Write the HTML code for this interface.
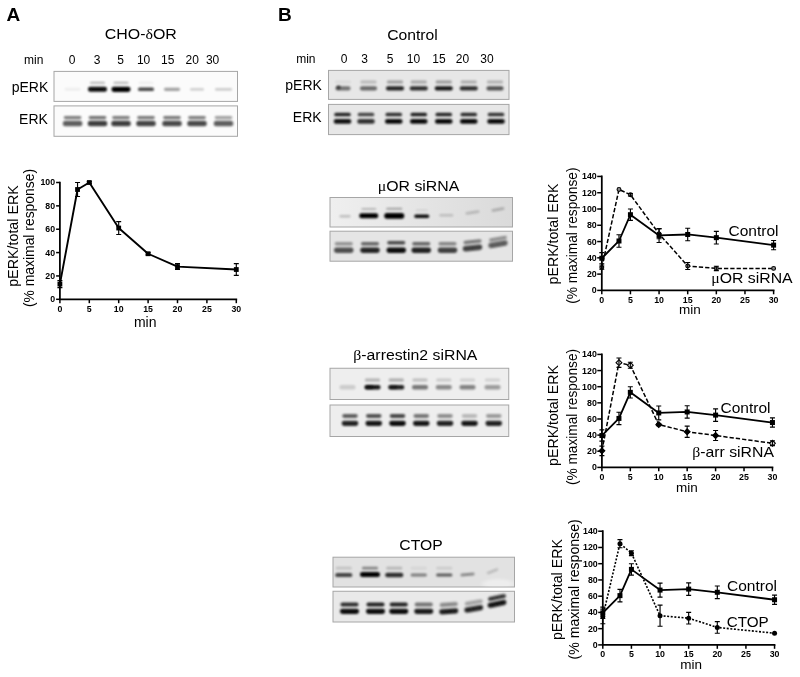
<!DOCTYPE html>
<html lang="en"><head><meta charset="utf-8"><title>Figure</title>
<style>html,body{margin:0;padding:0;background:#fff}svg{display:block}text{font-family:'Liberation Sans', Arial, Helvetica, sans-serif}</style>
</head><body>
<svg width="800" height="677" viewBox="0 0 800 677">
<defs>
<filter id="b1" x="-30%" y="-80%" width="160%" height="260%"><feGaussianBlur stdDeviation="1.15 0.85"/></filter>
<filter id="b2" x="-30%" y="-80%" width="160%" height="260%"><feGaussianBlur stdDeviation="1.3 1.0"/></filter>
<filter id="gb" x="0" y="0" width="800" height="677" filterUnits="userSpaceOnUse"><feGaussianBlur stdDeviation="0.5"/></filter>
<filter id="b3" x="-50%" y="-100%" width="200%" height="300%"><feGaussianBlur stdDeviation="2.5 1.8"/></filter>
<linearGradient id="gM" x1="0" x2="1" y1="0" y2="0"><stop offset="0" stop-color="#efefef"/><stop offset="1" stop-color="#dadada"/></linearGradient>
</defs>
<rect width="800" height="677" fill="#fff"/>
<g filter="url(#gb)">
<text x="6.5" y="20.8" font-size="19" font-weight="bold" text-anchor="start" fill="#050505">A</text>
<text x="277.9" y="20.8" font-size="19" font-weight="bold" text-anchor="start" fill="#050505">B</text>
<text transform="translate(140.8 38.8) scale(1.035 1)" font-size="15.4" text-anchor="middle" fill="#050505">CHO-<tspan font-family="'Liberation Serif', 'DejaVu Serif', serif">δ</tspan>OR</text>
<text transform="translate(412.5 39.9) scale(1.02 1)" font-size="15.4" text-anchor="middle" fill="#050505">Control</text>
<text x="24" y="63.5" font-size="12" text-anchor="start" fill="#050505">min</text>
<text x="72" y="63.5" font-size="12" text-anchor="middle" fill="#050505">0</text>
<text x="97" y="63.5" font-size="12" text-anchor="middle" fill="#050505">3</text>
<text x="120.5" y="63.5" font-size="12" text-anchor="middle" fill="#050505">5</text>
<text x="143.6" y="63.5" font-size="12" text-anchor="middle" fill="#050505">10</text>
<text x="167.7" y="63.5" font-size="12" text-anchor="middle" fill="#050505">15</text>
<text x="192.2" y="63.5" font-size="12" text-anchor="middle" fill="#050505">20</text>
<text x="212.6" y="63.5" font-size="12" text-anchor="middle" fill="#050505">30</text>
<text x="48.3" y="91.8" font-size="14" text-anchor="end" fill="#050505">pERK</text>
<text x="47.9" y="124.3" font-size="14" text-anchor="end" fill="#050505">ERK</text>
<text x="296.2" y="62.8" font-size="12" text-anchor="start" fill="#050505">min</text>
<text x="344" y="62.8" font-size="12" text-anchor="middle" fill="#050505">0</text>
<text x="364.5" y="62.8" font-size="12" text-anchor="middle" fill="#050505">3</text>
<text x="390" y="62.8" font-size="12" text-anchor="middle" fill="#050505">5</text>
<text x="413.5" y="62.8" font-size="12" text-anchor="middle" fill="#050505">10</text>
<text x="439" y="62.8" font-size="12" text-anchor="middle" fill="#050505">15</text>
<text x="462.5" y="62.8" font-size="12" text-anchor="middle" fill="#050505">20</text>
<text x="487" y="62.8" font-size="12" text-anchor="middle" fill="#050505">30</text>
<text x="321.9" y="89.8" font-size="14" text-anchor="end" fill="#050505">pERK</text>
<text x="321.6" y="121.7" font-size="14" text-anchor="end" fill="#050505">ERK</text>
<rect x="54" y="71.4" width="183.5" height="30.0" fill="#fbfbfb" stroke="#a6a6a6" stroke-width="1"/>
<clipPath id="cA1"><rect x="54.5" y="71.9" width="182.5" height="29.0"/></clipPath>
<g clip-path="url(#cA1)">
<rect x="64.6" y="87.8" width="16" height="3" rx="1.36" fill="#000" opacity="0.05" filter="url(#b1)"/>
<rect x="88.0" y="86.8" width="19" height="5" rx="2.27" fill="#000" opacity="0.95" filter="url(#b1)"/>
<rect x="111.5" y="86.7" width="19" height="5.2" rx="2.36" fill="#000" opacity="1.0" filter="url(#b1)"/>
<rect x="138.0" y="87.5" width="16" height="3.6" rx="1.64" fill="#000" opacity="0.72" filter="url(#b1)"/>
<rect x="164.0" y="87.7" width="16" height="3.2" rx="1.45" fill="#000" opacity="0.36" filter="url(#b1)"/>
<rect x="190.0" y="88.2" width="14" height="2.2" rx="1.0" fill="#000" opacity="0.2" filter="url(#b1)"/>
<rect x="215.0" y="88.2" width="17" height="2.2" rx="1.0" fill="#000" opacity="0.22" filter="url(#b1)"/>
<rect x="90.0" y="81.8" width="15" height="2.0" rx="0.91" fill="#000" opacity="0.28" filter="url(#b1)"/>
<rect x="113.5" y="81.8" width="15" height="2.0" rx="0.91" fill="#000" opacity="0.28" filter="url(#b1)"/>
<rect x="138.5" y="81.8" width="15" height="2.0" rx="0.91" fill="#000" opacity="0.06" filter="url(#b1)"/>
</g>
<rect x="54" y="105.9" width="183.5" height="30.400000000000006" fill="#fbfbfb" stroke="#a6a6a6" stroke-width="1"/>
<clipPath id="cA2"><rect x="54.5" y="106.4" width="182.5" height="29.400000000000006"/></clipPath>
<g clip-path="url(#cA2)">
<rect x="62.85" y="120.65" width="19.5" height="5.5" rx="2.5" fill="#000" opacity="0.62" filter="url(#b2)"/>
<rect x="87.75" y="120.65" width="19.5" height="5.5" rx="2.5" fill="#000" opacity="0.75" filter="url(#b2)"/>
<rect x="111.25" y="120.65" width="19.5" height="5.5" rx="2.5" fill="#000" opacity="0.75" filter="url(#b2)"/>
<rect x="136.25" y="120.65" width="19.5" height="5.5" rx="2.5" fill="#000" opacity="0.72" filter="url(#b2)"/>
<rect x="162.25" y="120.65" width="19.5" height="5.5" rx="2.5" fill="#000" opacity="0.7" filter="url(#b2)"/>
<rect x="187.25" y="120.65" width="19.5" height="5.5" rx="2.5" fill="#000" opacity="0.7" filter="url(#b2)"/>
<rect x="213.75" y="120.65" width="19.5" height="5.5" rx="2.5" fill="#000" opacity="0.62" filter="url(#b2)"/>
<rect x="63.85" y="116.0" width="17.5" height="3.2" rx="1.45" fill="#000" opacity="0.5" filter="url(#b2)"/>
<rect x="88.75" y="116.0" width="17.5" height="3.2" rx="1.45" fill="#000" opacity="0.55" filter="url(#b2)"/>
<rect x="112.25" y="116.0" width="17.5" height="3.2" rx="1.45" fill="#000" opacity="0.5" filter="url(#b2)"/>
<rect x="137.25" y="116.0" width="17.5" height="3.2" rx="1.45" fill="#000" opacity="0.52" filter="url(#b2)"/>
<rect x="163.25" y="116.0" width="17.5" height="3.2" rx="1.45" fill="#000" opacity="0.52" filter="url(#b2)"/>
<rect x="188.25" y="116.0" width="17.5" height="3.2" rx="1.45" fill="#000" opacity="0.5" filter="url(#b2)"/>
<rect x="214.75" y="116.0" width="17.5" height="3.2" rx="1.45" fill="#000" opacity="0.36" filter="url(#b2)"/>
</g>
<rect x="328.5" y="70.4" width="180.5" height="29.0" fill="#e7e7e7" stroke="#a6a6a6" stroke-width="1"/>
<clipPath id="cB1"><rect x="329.0" y="70.9" width="179.5" height="28.0"/></clipPath>
<g clip-path="url(#cB1)">
<rect x="335.5" y="86.2" width="15" height="4.2" rx="1.91" fill="#000" opacity="0.5" filter="url(#b1)"/>
<rect x="360.0" y="86.2" width="17" height="4.2" rx="1.91" fill="#000" opacity="0.55" filter="url(#b1)"/>
<rect x="386.0" y="86.2" width="18" height="4.2" rx="1.91" fill="#000" opacity="0.85" filter="url(#b1)"/>
<rect x="409.75" y="86.2" width="18" height="4.2" rx="1.91" fill="#000" opacity="0.8" filter="url(#b1)"/>
<rect x="434.75" y="86.2" width="18" height="4.2" rx="1.91" fill="#000" opacity="0.9" filter="url(#b1)"/>
<rect x="459.75" y="86.2" width="18" height="4.2" rx="1.91" fill="#000" opacity="0.8" filter="url(#b1)"/>
<rect x="486.5" y="86.2" width="17" height="4.2" rx="1.91" fill="#000" opacity="0.65" filter="url(#b1)"/>
<rect x="336.5" y="85.6" width="4" height="3.6" rx="1.64" fill="#000" opacity="0.6" filter="url(#b1)"/>
<rect x="335.0" y="80.6" width="16" height="2.8" rx="1.27" fill="#000" opacity="0.05" filter="url(#b1)"/>
<rect x="360.5" y="80.6" width="16" height="2.8" rx="1.27" fill="#000" opacity="0.2" filter="url(#b1)"/>
<rect x="387.0" y="80.6" width="16" height="2.8" rx="1.27" fill="#000" opacity="0.32" filter="url(#b1)"/>
<rect x="410.75" y="80.6" width="16" height="2.8" rx="1.27" fill="#000" opacity="0.28" filter="url(#b1)"/>
<rect x="435.75" y="80.6" width="16" height="2.8" rx="1.27" fill="#000" opacity="0.34" filter="url(#b1)"/>
<rect x="460.75" y="80.6" width="16" height="2.8" rx="1.27" fill="#000" opacity="0.26" filter="url(#b1)"/>
<rect x="487.0" y="80.6" width="16" height="2.8" rx="1.27" fill="#000" opacity="0.24" filter="url(#b1)"/>
</g>
<rect x="328.5" y="104.4" width="180.5" height="30.19999999999999" fill="#e7e7e7" stroke="#a6a6a6" stroke-width="1"/>
<clipPath id="cB2"><rect x="329.0" y="104.9" width="179.5" height="29.19999999999999"/></clipPath>
<g clip-path="url(#cB2)">
<rect x="333.75" y="119.0" width="17.5" height="4.8" rx="2.18" fill="#000" opacity="0.92" filter="url(#b1)"/>
<rect x="357.25" y="119.0" width="17.5" height="4.8" rx="2.18" fill="#000" opacity="0.78" filter="url(#b1)"/>
<rect x="385.0" y="119.0" width="17.5" height="4.8" rx="2.18" fill="#000" opacity="0.95" filter="url(#b1)"/>
<rect x="410.0" y="119.0" width="17.5" height="4.8" rx="2.18" fill="#000" opacity="0.95" filter="url(#b1)"/>
<rect x="435.0" y="119.0" width="17.5" height="4.8" rx="2.18" fill="#000" opacity="0.95" filter="url(#b1)"/>
<rect x="460.0" y="119.0" width="17.5" height="4.8" rx="2.18" fill="#000" opacity="0.95" filter="url(#b1)"/>
<rect x="487.25" y="119.0" width="17.5" height="4.8" rx="2.18" fill="#000" opacity="0.95" filter="url(#b1)"/>
<rect x="334.25" y="112.8" width="16.5" height="3.4" rx="1.55" fill="#000" opacity="0.85" filter="url(#b1)"/>
<rect x="357.75" y="112.8" width="16.5" height="3.4" rx="1.55" fill="#000" opacity="0.7" filter="url(#b1)"/>
<rect x="385.5" y="112.8" width="16.5" height="3.4" rx="1.55" fill="#000" opacity="0.8" filter="url(#b1)"/>
<rect x="410.5" y="112.8" width="16.5" height="3.4" rx="1.55" fill="#000" opacity="0.88" filter="url(#b1)"/>
<rect x="435.5" y="112.8" width="16.5" height="3.4" rx="1.55" fill="#000" opacity="0.85" filter="url(#b1)"/>
<rect x="460.5" y="112.8" width="16.5" height="3.4" rx="1.55" fill="#000" opacity="0.82" filter="url(#b1)"/>
<rect x="487.75" y="112.8" width="16.5" height="3.4" rx="1.55" fill="#000" opacity="0.78" filter="url(#b1)"/>
</g>
<text transform="translate(418.5 191.1) scale(1.03 1)" font-size="15.4" text-anchor="middle" fill="#050505"><tspan font-family="'Liberation Serif', 'DejaVu Serif', serif">μ</tspan>OR siRNA</text>
<rect x="330" y="197.5" width="182.5" height="29.5" fill="url(#gM)" stroke="#a6a6a6" stroke-width="1"/>
<clipPath id="cM1"><rect x="330.5" y="198.0" width="181.5" height="28.5"/></clipPath>
<g clip-path="url(#cM1)">
<rect x="339.5" y="214.9" width="11" height="2.6" rx="1.18" fill="#000" opacity="0.2" filter="url(#b1)"/>
<rect x="359.25" y="213.3" width="19" height="5.0" rx="2.27" fill="#000" opacity="1.0" filter="url(#b1)"/>
<rect x="384.25" y="212.9" width="20" height="5.8" rx="2.64" fill="#000" opacity="1.0" filter="url(#b1)"/>
<rect x="414.25" y="214.4" width="15" height="3.6" rx="1.64" fill="#000" opacity="0.95" filter="url(#b1)"/>
<rect x="439.25" y="214.1" width="14" height="2.4" rx="1.09" fill="#000" opacity="0.16" filter="url(#b1)"/>
<rect x="465.5" y="211.3" width="14" height="2.4" rx="1.09" fill="#000" opacity="0.2" filter="url(#b1)" transform="rotate(-9 472.5 212.5)"/>
<rect x="491.5" y="208.3" width="13" height="2.4" rx="1.09" fill="#000" opacity="0.24" filter="url(#b1)" transform="rotate(-11 498 209.5)"/>
<rect x="361.25" y="208.1" width="15" height="1.8" rx="0.82" fill="#000" opacity="0.22" filter="url(#b1)"/>
<rect x="386.25" y="207.8" width="16" height="2.0" rx="0.91" fill="#000" opacity="0.3" filter="url(#b1)"/>
<rect x="415.75" y="209.4" width="12" height="1.6" rx="0.73" fill="#000" opacity="0.1" filter="url(#b1)"/>
</g>
<rect x="330" y="231.2" width="182.5" height="30.0" fill="#e5e5e5" stroke="#a6a6a6" stroke-width="1"/>
<clipPath id="cM2"><rect x="330.5" y="231.7" width="181.5" height="29.0"/></clipPath>
<g clip-path="url(#cM2)">
<rect x="334.0" y="247.5" width="19.5" height="5.4" rx="2.45" fill="#000" opacity="0.66" filter="url(#b2)"/>
<rect x="360.25" y="247.5" width="19.5" height="5.4" rx="2.45" fill="#000" opacity="0.84" filter="url(#b2)"/>
<rect x="386.5" y="247.5" width="19.5" height="5.4" rx="2.45" fill="#000" opacity="0.94" filter="url(#b2)"/>
<rect x="411.5" y="247.5" width="19.5" height="5.4" rx="2.45" fill="#000" opacity="0.86" filter="url(#b2)"/>
<rect x="437.75" y="247.5" width="19.5" height="5.4" rx="2.45" fill="#000" opacity="0.72" filter="url(#b2)"/>
<rect x="462.75" y="245.3" width="19.5" height="5.4" rx="2.45" fill="#000" opacity="0.72" filter="url(#b2)" transform="rotate(-6 472.5 248.0)"/>
<rect x="488.25" y="241.5" width="19.5" height="5.4" rx="2.45" fill="#000" opacity="0.6" filter="url(#b2)" transform="rotate(-10 498 244.2)"/>
<rect x="334.75" y="242.0" width="18" height="3.4" rx="1.55" fill="#000" opacity="0.36" filter="url(#b2)"/>
<rect x="361.0" y="242.0" width="18" height="3.4" rx="1.55" fill="#000" opacity="0.56" filter="url(#b2)"/>
<rect x="387.25" y="241.0" width="18" height="3.4" rx="1.55" fill="#000" opacity="0.68" filter="url(#b2)"/>
<rect x="412.25" y="242.0" width="18" height="3.4" rx="1.55" fill="#000" opacity="0.56" filter="url(#b2)"/>
<rect x="438.5" y="242.0" width="18" height="3.4" rx="1.55" fill="#000" opacity="0.42" filter="url(#b2)"/>
<rect x="463.5" y="240.0" width="18" height="3.4" rx="1.55" fill="#000" opacity="0.48" filter="url(#b2)" transform="rotate(-6 472.5 241.7)"/>
<rect x="489.0" y="237.0" width="18" height="3.4" rx="1.55" fill="#000" opacity="0.38" filter="url(#b2)" transform="rotate(-10 498 238.7)"/>
</g>
<text transform="translate(415.3 360.1) scale(1.028 1)" font-size="15.4" text-anchor="middle" fill="#050505"><tspan font-family="'Liberation Serif', 'DejaVu Serif', serif">β</tspan>-arrestin2 siRNA</text>
<rect x="330" y="368.25" width="178.75" height="31.25" fill="#eeeeee" stroke="#a6a6a6" stroke-width="1"/>
<clipPath id="cR1"><rect x="330.5" y="368.75" width="177.75" height="30.25"/></clipPath>
<g clip-path="url(#cR1)">
<rect x="339.5" y="385.0" width="16" height="4.4" rx="2.0" fill="#000" opacity="0.14" filter="url(#b1)"/>
<rect x="364.5" y="385.0" width="16" height="4.4" rx="2.0" fill="#000" opacity="0.9" filter="url(#b1)"/>
<rect x="388.25" y="385.0" width="16" height="4.4" rx="2.0" fill="#000" opacity="0.85" filter="url(#b1)"/>
<rect x="412.0" y="385.0" width="16" height="4.4" rx="2.0" fill="#000" opacity="0.5" filter="url(#b1)"/>
<rect x="435.75" y="385.0" width="16" height="4.4" rx="2.0" fill="#000" opacity="0.42" filter="url(#b1)"/>
<rect x="459.5" y="385.0" width="16" height="4.4" rx="2.0" fill="#000" opacity="0.45" filter="url(#b1)"/>
<rect x="484.5" y="385.0" width="16" height="4.4" rx="2.0" fill="#000" opacity="0.34" filter="url(#b1)"/>
<rect x="365.5" y="385.4" width="8" height="3.6" rx="1.64" fill="#000" opacity="0.5" filter="url(#b1)"/>
<rect x="389.5" y="385.4" width="8" height="3.6" rx="1.64" fill="#000" opacity="0.4" filter="url(#b1)"/>
<rect x="365.0" y="378.6" width="15" height="2.8" rx="1.27" fill="#000" opacity="0.25" filter="url(#b1)"/>
<rect x="388.75" y="378.6" width="15" height="2.8" rx="1.27" fill="#000" opacity="0.28" filter="url(#b1)"/>
<rect x="412.5" y="378.6" width="15" height="2.8" rx="1.27" fill="#000" opacity="0.2" filter="url(#b1)"/>
<rect x="436.25" y="378.6" width="15" height="2.8" rx="1.27" fill="#000" opacity="0.15" filter="url(#b1)"/>
<rect x="460.0" y="378.6" width="15" height="2.8" rx="1.27" fill="#000" opacity="0.12" filter="url(#b1)"/>
<rect x="485.0" y="378.6" width="15" height="2.8" rx="1.27" fill="#000" opacity="0.12" filter="url(#b1)"/>
</g>
<rect x="330" y="405" width="178.75" height="31.5" fill="#eeeeee" stroke="#a6a6a6" stroke-width="1"/>
<clipPath id="cR2"><rect x="330.5" y="405.5" width="177.75" height="30.5"/></clipPath>
<g clip-path="url(#cR2)">
<rect x="341.75" y="420.7" width="16.5" height="5.2" rx="2.36" fill="#000" opacity="0.85" filter="url(#b1)"/>
<rect x="365.5" y="420.7" width="16.5" height="5.2" rx="2.36" fill="#000" opacity="0.9" filter="url(#b1)"/>
<rect x="389.25" y="420.7" width="16.5" height="5.2" rx="2.36" fill="#000" opacity="0.95" filter="url(#b1)"/>
<rect x="413.0" y="420.7" width="16.5" height="5.2" rx="2.36" fill="#000" opacity="0.9" filter="url(#b1)"/>
<rect x="436.75" y="420.7" width="16.5" height="5.2" rx="2.36" fill="#000" opacity="0.85" filter="url(#b1)"/>
<rect x="461.25" y="420.7" width="16.5" height="5.2" rx="2.36" fill="#000" opacity="0.9" filter="url(#b1)"/>
<rect x="485.5" y="420.7" width="16.5" height="5.2" rx="2.36" fill="#000" opacity="0.85" filter="url(#b1)"/>
<rect x="342.25" y="413.9" width="15.5" height="4.0" rx="1.82" fill="#000" opacity="0.6" filter="url(#b1)"/>
<rect x="366.0" y="413.9" width="15.5" height="4.0" rx="1.82" fill="#000" opacity="0.65" filter="url(#b1)"/>
<rect x="389.75" y="413.9" width="15.5" height="4.0" rx="1.82" fill="#000" opacity="0.7" filter="url(#b1)"/>
<rect x="413.5" y="413.9" width="15.5" height="4.0" rx="1.82" fill="#000" opacity="0.5" filter="url(#b1)"/>
<rect x="437.25" y="413.9" width="15.5" height="4.0" rx="1.82" fill="#000" opacity="0.4" filter="url(#b1)"/>
<rect x="461.75" y="413.9" width="15.5" height="4.0" rx="1.82" fill="#000" opacity="0.22" filter="url(#b1)"/>
<rect x="486.0" y="413.9" width="15.5" height="4.0" rx="1.82" fill="#000" opacity="0.35" filter="url(#b1)"/>
</g>
<text transform="translate(421 550.3) scale(1.02 1)" font-size="15.4" text-anchor="middle" fill="#050505">CTOP</text>
<rect x="333" y="557.2" width="181.5" height="29.799999999999955" fill="#e2e2e2" stroke="#a6a6a6" stroke-width="1"/>
<clipPath id="cC1"><rect x="333.5" y="557.7" width="180.5" height="28.799999999999955"/></clipPath>
<g clip-path="url(#cC1)">
<rect x="335.25" y="572.9" width="17" height="4.2" rx="1.91" fill="#000" opacity="0.7" filter="url(#b1)"/>
<rect x="360.0" y="571.9" width="20" height="5.2" rx="2.36" fill="#000" opacity="1.0" filter="url(#b1)"/>
<rect x="385.25" y="572.7" width="18" height="4.6" rx="2.09" fill="#000" opacity="0.8" filter="url(#b1)"/>
<rect x="410.75" y="573.6" width="16" height="2.8" rx="1.27" fill="#000" opacity="0.45" filter="url(#b1)"/>
<rect x="436.25" y="573.4" width="16" height="3.2" rx="1.45" fill="#000" opacity="0.6" filter="url(#b1)"/>
<rect x="460.5" y="573.2" width="14" height="2.6" rx="1.18" fill="#000" opacity="0.45" filter="url(#b1)" transform="rotate(-5 467.5 574.5)"/>
<rect x="486.5" y="570.0" width="12" height="2.4" rx="1.09" fill="#000" opacity="0.18" filter="url(#b1)" transform="rotate(-22 492.5 571.2)"/>
<rect x="335.75" y="566.8" width="16" height="2.8" rx="1.27" fill="#000" opacity="0.14" filter="url(#b1)"/>
<rect x="362.0" y="566.8" width="16" height="2.8" rx="1.27" fill="#000" opacity="0.42" filter="url(#b1)"/>
<rect x="386.25" y="566.8" width="16" height="2.8" rx="1.27" fill="#000" opacity="0.2" filter="url(#b1)"/>
<rect x="410.75" y="566.8" width="16" height="2.8" rx="1.27" fill="#000" opacity="0.06" filter="url(#b1)"/>
<rect x="436.25" y="566.8" width="16" height="2.8" rx="1.27" fill="#000" opacity="0.1" filter="url(#b1)"/>
</g>
<g clip-path="url(#cC1)"><ellipse cx="498" cy="584" rx="16" ry="5" fill="#fff" opacity="0.4" filter="url(#b3)"/></g>
<rect x="333" y="591.25" width="181.5" height="30.75" fill="#e9e9e9" stroke="#a6a6a6" stroke-width="1"/>
<clipPath id="cC2"><rect x="333.5" y="591.75" width="180.5" height="29.75"/></clipPath>
<g clip-path="url(#cC2)">
<rect x="340.0" y="608.7" width="19" height="5.2" rx="2.36" fill="#000" opacity="0.95" filter="url(#b1)"/>
<rect x="366.0" y="608.7" width="19" height="5.2" rx="2.36" fill="#000" opacity="0.95" filter="url(#b1)"/>
<rect x="389.25" y="608.7" width="19" height="5.2" rx="2.36" fill="#000" opacity="0.95" filter="url(#b1)"/>
<rect x="414.25" y="608.7" width="19" height="5.2" rx="2.36" fill="#000" opacity="0.88" filter="url(#b1)"/>
<rect x="439.25" y="608.7" width="19" height="5.2" rx="2.36" fill="#000" opacity="0.88" filter="url(#b1)" transform="rotate(-4 448.75 611.3)"/>
<rect x="464.25" y="606.2" width="19" height="5.2" rx="2.36" fill="#000" opacity="0.85" filter="url(#b1)" transform="rotate(-10 473.75 608.8)"/>
<rect x="487.5" y="601.2" width="19" height="5.2" rx="2.36" fill="#000" opacity="0.92" filter="url(#b1)" transform="rotate(-12 497 603.8)"/>
<rect x="340.5" y="602.6" width="18" height="3.8" rx="1.73" fill="#000" opacity="0.8" filter="url(#b1)"/>
<rect x="366.5" y="602.6" width="18" height="3.8" rx="1.73" fill="#000" opacity="0.85" filter="url(#b1)"/>
<rect x="389.75" y="602.6" width="18" height="3.8" rx="1.73" fill="#000" opacity="0.85" filter="url(#b1)"/>
<rect x="414.75" y="602.6" width="18" height="3.8" rx="1.73" fill="#000" opacity="0.5" filter="url(#b1)"/>
<rect x="439.75" y="602.6" width="18" height="3.8" rx="1.73" fill="#000" opacity="0.42" filter="url(#b1)" transform="rotate(-4 448.75 604.5)"/>
<rect x="464.75" y="600.6" width="18" height="3.8" rx="1.73" fill="#000" opacity="0.3" filter="url(#b1)" transform="rotate(-10 473.75 602.5)"/>
<rect x="488.0" y="595.6" width="18" height="3.8" rx="1.73" fill="#000" opacity="0.8" filter="url(#b1)" transform="rotate(-12 497 597.5)"/>
</g>
<polyline points="59.9,284.12 77.54,189.51 89.3,182.5 118.7,228.05 148.1,253.75 177.5,266.6 236.3,269.52" fill="none" stroke="#050505" stroke-width="1.9" stroke-linejoin="round"/>
<path d="M59.9 287.62V280.61M57.4 280.61h5.0M57.4 287.62h5.0" stroke="#050505" stroke-width="1.15" fill="none"/>
<path d="M77.54 196.52V182.5M75.04 182.5h5.0M75.04 196.52h5.0" stroke="#050505" stroke-width="1.15" fill="none"/>
<path d="M89.3 183.43V181.57M86.8 181.57h5.0M86.8 183.43h5.0" stroke="#050505" stroke-width="1.15" fill="none"/>
<path d="M118.7 234.48V221.63M116.2 221.63h5.0M116.2 234.48h5.0" stroke="#050505" stroke-width="1.15" fill="none"/>
<path d="M148.1 254.92V252.58M145.6 252.58h5.0M145.6 254.92h5.0" stroke="#050505" stroke-width="1.15" fill="none"/>
<path d="M177.5 269.52V263.68M175.0 263.68h5.0M175.0 269.52h5.0" stroke="#050505" stroke-width="1.15" fill="none"/>
<path d="M236.3 275.36V263.68M233.8 263.68h5.0M233.8 275.36h5.0" stroke="#050505" stroke-width="1.15" fill="none"/>
<rect x="57.5" y="281.72" width="4.8" height="4.8" fill="#050505"/>
<rect x="75.14" y="187.11" width="4.8" height="4.8" fill="#050505"/>
<rect x="86.9" y="180.1" width="4.8" height="4.8" fill="#050505"/>
<rect x="116.3" y="225.65" width="4.8" height="4.8" fill="#050505"/>
<rect x="145.7" y="251.35" width="4.8" height="4.8" fill="#050505"/>
<rect x="175.1" y="264.2" width="4.8" height="4.8" fill="#050505"/>
<rect x="233.9" y="267.12" width="4.8" height="4.8" fill="#050505"/>
<path d="M59.9 182.5V299.3H236.3" stroke="#050505" stroke-width="1.75" fill="none" stroke-linecap="square"/>
<path d="M59.9 299.3h-3.8" stroke="#050505" stroke-width="1.5"/>
<text transform="translate(55.1 302.24) scale(1.07 1)" font-size="8.2" font-weight="bold" text-anchor="end" fill="#050505">0</text>
<path d="M59.9 275.94h-3.8" stroke="#050505" stroke-width="1.5"/>
<text transform="translate(55.1 278.88) scale(1.07 1)" font-size="8.2" font-weight="bold" text-anchor="end" fill="#050505">20</text>
<path d="M59.9 252.58h-3.8" stroke="#050505" stroke-width="1.5"/>
<text transform="translate(55.1 255.52) scale(1.07 1)" font-size="8.2" font-weight="bold" text-anchor="end" fill="#050505">40</text>
<path d="M59.9 229.22h-3.8" stroke="#050505" stroke-width="1.5"/>
<text transform="translate(55.1 232.16) scale(1.07 1)" font-size="8.2" font-weight="bold" text-anchor="end" fill="#050505">60</text>
<path d="M59.9 205.86h-3.8" stroke="#050505" stroke-width="1.5"/>
<text transform="translate(55.1 208.8) scale(1.07 1)" font-size="8.2" font-weight="bold" text-anchor="end" fill="#050505">80</text>
<path d="M59.9 182.5h-3.8" stroke="#050505" stroke-width="1.5"/>
<text transform="translate(55.1 185.44) scale(1.07 1)" font-size="8.2" font-weight="bold" text-anchor="end" fill="#050505">100</text>
<path d="M59.9 299.3v3.9" stroke="#050505" stroke-width="1.5"/>
<text transform="translate(59.9 311.6) scale(1.07 1)" font-size="8.2" font-weight="bold" text-anchor="middle" fill="#050505">0</text>
<path d="M89.3 299.3v3.9" stroke="#050505" stroke-width="1.5"/>
<text transform="translate(89.3 311.6) scale(1.07 1)" font-size="8.2" font-weight="bold" text-anchor="middle" fill="#050505">5</text>
<path d="M118.7 299.3v3.9" stroke="#050505" stroke-width="1.5"/>
<text transform="translate(118.7 311.6) scale(1.07 1)" font-size="8.2" font-weight="bold" text-anchor="middle" fill="#050505">10</text>
<path d="M148.1 299.3v3.9" stroke="#050505" stroke-width="1.5"/>
<text transform="translate(148.1 311.6) scale(1.07 1)" font-size="8.2" font-weight="bold" text-anchor="middle" fill="#050505">15</text>
<path d="M177.5 299.3v3.9" stroke="#050505" stroke-width="1.5"/>
<text transform="translate(177.5 311.6) scale(1.07 1)" font-size="8.2" font-weight="bold" text-anchor="middle" fill="#050505">20</text>
<path d="M206.9 299.3v3.9" stroke="#050505" stroke-width="1.5"/>
<text transform="translate(206.9 311.6) scale(1.07 1)" font-size="8.2" font-weight="bold" text-anchor="middle" fill="#050505">25</text>
<path d="M236.3 299.3v3.9" stroke="#050505" stroke-width="1.5"/>
<text transform="translate(236.3 311.6) scale(1.07 1)" font-size="8.2" font-weight="bold" text-anchor="middle" fill="#050505">30</text>
<text transform="translate(17.6 236) rotate(-90) scale(1 1.0)" font-size="14.3" text-anchor="middle" fill="#050505">pERK/total ERK</text>
<text transform="translate(33.8 238) rotate(-90) scale(1 1.0)" font-size="13.9" text-anchor="middle" fill="#050505">(% maximal response)</text>
<text x="145.2" y="327" font-size="14" text-anchor="middle" fill="#050505">min</text>
<polyline points="601.8,267.61 618.98,189.46 630.43,194.75 659.07,233.83 687.7,265.98 716.34,268.42 773.61,268.42" fill="none" stroke="#050505" stroke-width="1.5" stroke-dasharray="4.3 2" stroke-linejoin="round"/>
<circle cx="601.8" cy="267.61" r="1.9" fill="#8a8a8a" stroke="#050505" stroke-width="1.1"/>
<circle cx="618.98" cy="189.46" r="1.9" fill="#8a8a8a" stroke="#050505" stroke-width="1.1"/>
<circle cx="630.43" cy="194.75" r="1.9" fill="#8a8a8a" stroke="#050505" stroke-width="1.1"/>
<circle cx="659.07" cy="233.83" r="1.9" fill="#8a8a8a" stroke="#050505" stroke-width="1.1"/>
<circle cx="687.7" cy="265.98" r="1.9" fill="#8a8a8a" stroke="#050505" stroke-width="1.1"/>
<circle cx="716.34" cy="268.42" r="1.9" fill="#8a8a8a" stroke="#050505" stroke-width="1.1"/>
<circle cx="773.61" cy="268.42" r="1.9" fill="#8a8a8a" stroke="#050505" stroke-width="1.1"/>
<path d="M601.8 269.24V265.98M599.3 265.98h5.0M599.3 269.24h5.0" stroke="#050505" stroke-width="1.15" fill="none"/>
<path d="M630.43 195.98V193.53M627.93 193.53h5.0M627.93 195.98h5.0" stroke="#050505" stroke-width="1.15" fill="none"/>
<path d="M659.07 238.71V228.94M656.57 228.94h5.0M656.57 238.71h5.0" stroke="#050505" stroke-width="1.15" fill="none"/>
<path d="M687.7 269.48V262.48M685.2 262.48h5.0M685.2 269.48h5.0" stroke="#050505" stroke-width="1.15" fill="none"/>
<path d="M716.34 270.62V266.22M713.84 266.22h5.0M713.84 270.62h5.0" stroke="#050505" stroke-width="1.15" fill="none"/>
<polyline points="601.8,258.25 618.98,240.99 630.43,214.7 659.07,235.45 687.7,234.48 716.34,237.65 773.61,245.14" fill="none" stroke="#050505" stroke-width="1.8" stroke-linejoin="round"/>
<path d="M601.8 263.94V252.55M599.3 252.55h5.0M599.3 263.94h5.0" stroke="#050505" stroke-width="1.15" fill="none"/>
<path d="M618.98 247.26V234.72M616.48 234.72h5.0M616.48 247.26h5.0" stroke="#050505" stroke-width="1.15" fill="none"/>
<path d="M630.43 220.4V209.0M627.93 209.0h5.0M627.93 220.4h5.0" stroke="#050505" stroke-width="1.15" fill="none"/>
<path d="M659.07 242.46V228.45M656.57 228.45h5.0M656.57 242.46h5.0" stroke="#050505" stroke-width="1.15" fill="none"/>
<path d="M687.7 240.75V228.21M685.2 228.21h5.0M685.2 240.75h5.0" stroke="#050505" stroke-width="1.15" fill="none"/>
<path d="M716.34 244.0V231.3M713.84 231.3h5.0M713.84 244.0h5.0" stroke="#050505" stroke-width="1.15" fill="none"/>
<path d="M773.61 249.78V240.5M771.11 240.5h5.0M771.11 249.78h5.0" stroke="#050505" stroke-width="1.15" fill="none"/>
<rect x="599.3" y="255.75" width="5.0" height="5.0" fill="#050505"/>
<rect x="616.48" y="238.49" width="5.0" height="5.0" fill="#050505"/>
<rect x="627.93" y="212.2" width="5.0" height="5.0" fill="#050505"/>
<rect x="656.57" y="232.95" width="5.0" height="5.0" fill="#050505"/>
<rect x="685.2" y="231.98" width="5.0" height="5.0" fill="#050505"/>
<rect x="713.84" y="235.15" width="5.0" height="5.0" fill="#050505"/>
<rect x="771.11" y="242.64" width="5.0" height="5.0" fill="#050505"/>
<path d="M601.8 176.44V290.4H773.61" stroke="#050505" stroke-width="1.75" fill="none" stroke-linecap="square"/>
<path d="M601.8 290.4h-4.6" stroke="#050505" stroke-width="1.5"/>
<text transform="translate(596.7 293.41) scale(1.05 1)" font-size="8.4" font-weight="bold" text-anchor="end" fill="#050505">0</text>
<path d="M601.8 274.12h-4.6" stroke="#050505" stroke-width="1.5"/>
<text transform="translate(596.7 277.13) scale(1.05 1)" font-size="8.4" font-weight="bold" text-anchor="end" fill="#050505">20</text>
<path d="M601.8 257.84h-4.6" stroke="#050505" stroke-width="1.5"/>
<text transform="translate(596.7 260.85) scale(1.05 1)" font-size="8.4" font-weight="bold" text-anchor="end" fill="#050505">40</text>
<path d="M601.8 241.56h-4.6" stroke="#050505" stroke-width="1.5"/>
<text transform="translate(596.7 244.57) scale(1.05 1)" font-size="8.4" font-weight="bold" text-anchor="end" fill="#050505">60</text>
<path d="M601.8 225.28h-4.6" stroke="#050505" stroke-width="1.5"/>
<text transform="translate(596.7 228.29) scale(1.05 1)" font-size="8.4" font-weight="bold" text-anchor="end" fill="#050505">80</text>
<path d="M601.8 209.0h-4.6" stroke="#050505" stroke-width="1.5"/>
<text transform="translate(596.7 212.01) scale(1.05 1)" font-size="8.4" font-weight="bold" text-anchor="end" fill="#050505">100</text>
<path d="M601.8 192.72h-4.6" stroke="#050505" stroke-width="1.5"/>
<text transform="translate(596.7 195.73) scale(1.05 1)" font-size="8.4" font-weight="bold" text-anchor="end" fill="#050505">120</text>
<path d="M601.8 176.44h-4.6" stroke="#050505" stroke-width="1.5"/>
<text transform="translate(596.7 179.45) scale(1.05 1)" font-size="8.4" font-weight="bold" text-anchor="end" fill="#050505">140</text>
<path d="M601.8 290.4v3.9" stroke="#050505" stroke-width="1.5"/>
<text transform="translate(601.8 303.0) scale(1.05 1)" font-size="8.4" font-weight="bold" text-anchor="middle" fill="#050505">0</text>
<path d="M630.43 290.4v3.9" stroke="#050505" stroke-width="1.5"/>
<text transform="translate(630.43 303.0) scale(1.05 1)" font-size="8.4" font-weight="bold" text-anchor="middle" fill="#050505">5</text>
<path d="M659.07 290.4v3.9" stroke="#050505" stroke-width="1.5"/>
<text transform="translate(659.07 303.0) scale(1.05 1)" font-size="8.4" font-weight="bold" text-anchor="middle" fill="#050505">10</text>
<path d="M687.7 290.4v3.9" stroke="#050505" stroke-width="1.5"/>
<text transform="translate(687.7 303.0) scale(1.05 1)" font-size="8.4" font-weight="bold" text-anchor="middle" fill="#050505">15</text>
<path d="M716.34 290.4v3.9" stroke="#050505" stroke-width="1.5"/>
<text transform="translate(716.34 303.0) scale(1.05 1)" font-size="8.4" font-weight="bold" text-anchor="middle" fill="#050505">20</text>
<path d="M744.97 290.4v3.9" stroke="#050505" stroke-width="1.5"/>
<text transform="translate(744.97 303.0) scale(1.05 1)" font-size="8.4" font-weight="bold" text-anchor="middle" fill="#050505">25</text>
<path d="M773.61 290.4v3.9" stroke="#050505" stroke-width="1.5"/>
<text transform="translate(773.61 303.0) scale(1.05 1)" font-size="8.4" font-weight="bold" text-anchor="middle" fill="#050505">30</text>
<text transform="translate(558.4 234) rotate(-90) scale(1 1.04)" font-size="14.2" text-anchor="middle" fill="#050505">pERK/total ERK</text>
<text transform="translate(577 235.6) rotate(-90) scale(1 1.04)" font-size="13.7" text-anchor="middle" fill="#050505">(% maximal response)</text>
<text x="690" y="314" font-size="13.5" text-anchor="middle" fill="#050505">min</text>
<text transform="translate(778.5 235.75) scale(1.11 1)" font-size="14" text-anchor="end" fill="#050505">Control</text>
<text transform="translate(792.6 283) scale(1.115 1)" font-size="14.2" text-anchor="end" fill="#050505"><tspan font-family="'Liberation Serif', 'DejaVu Serif', serif">μ</tspan>OR siRNA</text>
<polyline points="601.9,450.86 618.95,362.65 630.32,365.23 658.75,424.63 687.17,431.73 715.6,435.52 772.45,443.27" fill="none" stroke="#050505" stroke-width="1.5" stroke-dasharray="4.3 2" stroke-linejoin="round"/>
<path d="M601.9 447.96L604.8 450.86L601.9 453.76L599.0 450.86Z" fill="#050505" stroke="#050505" stroke-width="1.1"/>
<path d="M618.95 359.75L621.85 362.65L618.95 365.55L616.05 362.65Z" fill="#e8e8e8" stroke="#050505" stroke-width="1.1"/>
<path d="M630.32 362.33L633.22 365.23L630.32 368.13L627.42 365.23Z" fill="#e8e8e8" stroke="#050505" stroke-width="1.1"/>
<path d="M658.75 421.73L661.65 424.63L658.75 427.53L655.85 424.63Z" fill="#050505" stroke="#050505" stroke-width="1.1"/>
<path d="M687.17 428.83L690.07 431.73L687.17 434.63L684.27 431.73Z" fill="#050505" stroke="#050505" stroke-width="1.1"/>
<path d="M715.6 432.62L718.5 435.52L715.6 438.42L712.7 435.52Z" fill="#050505" stroke="#050505" stroke-width="1.1"/>
<path d="M772.45 440.37L775.35 443.27L772.45 446.17L769.55 443.27Z" fill="#e8e8e8" stroke="#050505" stroke-width="1.1"/>
<path d="M601.9 455.62V446.1M599.4 446.1h5.0M599.4 455.62h5.0" stroke="#050505" stroke-width="1.15" fill="none"/>
<path d="M618.95 367.33V357.97M616.45 357.97h5.0M616.45 367.33h5.0" stroke="#050505" stroke-width="1.15" fill="none"/>
<path d="M630.32 368.22V362.25M627.82 362.25h5.0M627.82 368.22h5.0" stroke="#050505" stroke-width="1.15" fill="none"/>
<path d="M658.75 425.6V423.66M656.25 423.66h5.0M656.25 425.6h5.0" stroke="#050505" stroke-width="1.15" fill="none"/>
<path d="M687.17 437.38V426.08M684.67 426.08h5.0M684.67 437.38h5.0" stroke="#050505" stroke-width="1.15" fill="none"/>
<path d="M715.6 440.53V430.52M713.1 430.52h5.0M713.1 440.53h5.0" stroke="#050505" stroke-width="1.15" fill="none"/>
<path d="M772.45 445.69V440.85M769.95 440.85h5.0M769.95 445.69h5.0" stroke="#050505" stroke-width="1.15" fill="none"/>
<polyline points="601.9,435.52 618.95,418.42 630.32,392.35 658.75,412.93 687.17,411.96 715.6,415.11 772.45,422.53" fill="none" stroke="#050505" stroke-width="1.8" stroke-linejoin="round"/>
<path d="M601.9 441.17V429.87M599.4 429.87h5.0M599.4 441.17h5.0" stroke="#050505" stroke-width="1.15" fill="none"/>
<path d="M618.95 424.63V412.2M616.45 412.2h5.0M616.45 424.63h5.0" stroke="#050505" stroke-width="1.15" fill="none"/>
<path d="M630.32 398.0V386.7M627.82 386.7h5.0M627.82 398.0h5.0" stroke="#050505" stroke-width="1.15" fill="none"/>
<path d="M658.75 419.87V405.99M656.25 405.99h5.0M656.25 419.87h5.0" stroke="#050505" stroke-width="1.15" fill="none"/>
<path d="M687.17 418.17V405.75M684.67 405.75h5.0M684.67 418.17h5.0" stroke="#050505" stroke-width="1.15" fill="none"/>
<path d="M715.6 421.4V408.81M713.1 408.81h5.0M713.1 421.4h5.0" stroke="#050505" stroke-width="1.15" fill="none"/>
<path d="M772.45 427.13V417.93M769.95 417.93h5.0M769.95 427.13h5.0" stroke="#050505" stroke-width="1.15" fill="none"/>
<rect x="599.4" y="433.02" width="5.0" height="5.0" fill="#050505"/>
<rect x="616.45" y="415.92" width="5.0" height="5.0" fill="#050505"/>
<rect x="627.82" y="389.85" width="5.0" height="5.0" fill="#050505"/>
<rect x="656.25" y="410.43" width="5.0" height="5.0" fill="#050505"/>
<rect x="684.67" y="409.46" width="5.0" height="5.0" fill="#050505"/>
<rect x="713.1" y="412.61" width="5.0" height="5.0" fill="#050505"/>
<rect x="769.95" y="420.03" width="5.0" height="5.0" fill="#050505"/>
<path d="M601.9 354.42V467.4H772.45" stroke="#050505" stroke-width="1.75" fill="none" stroke-linecap="square"/>
<path d="M601.9 467.4h-4.6" stroke="#050505" stroke-width="1.5"/>
<text transform="translate(596.8 470.41) scale(1.05 1)" font-size="8.4" font-weight="bold" text-anchor="end" fill="#050505">0</text>
<path d="M601.9 451.26h-4.6" stroke="#050505" stroke-width="1.5"/>
<text transform="translate(596.8 454.27) scale(1.05 1)" font-size="8.4" font-weight="bold" text-anchor="end" fill="#050505">20</text>
<path d="M601.9 435.12h-4.6" stroke="#050505" stroke-width="1.5"/>
<text transform="translate(596.8 438.13) scale(1.05 1)" font-size="8.4" font-weight="bold" text-anchor="end" fill="#050505">40</text>
<path d="M601.9 418.98h-4.6" stroke="#050505" stroke-width="1.5"/>
<text transform="translate(596.8 421.99) scale(1.05 1)" font-size="8.4" font-weight="bold" text-anchor="end" fill="#050505">60</text>
<path d="M601.9 402.84h-4.6" stroke="#050505" stroke-width="1.5"/>
<text transform="translate(596.8 405.85) scale(1.05 1)" font-size="8.4" font-weight="bold" text-anchor="end" fill="#050505">80</text>
<path d="M601.9 386.7h-4.6" stroke="#050505" stroke-width="1.5"/>
<text transform="translate(596.8 389.71) scale(1.05 1)" font-size="8.4" font-weight="bold" text-anchor="end" fill="#050505">100</text>
<path d="M601.9 370.56h-4.6" stroke="#050505" stroke-width="1.5"/>
<text transform="translate(596.8 373.57) scale(1.05 1)" font-size="8.4" font-weight="bold" text-anchor="end" fill="#050505">120</text>
<path d="M601.9 354.42h-4.6" stroke="#050505" stroke-width="1.5"/>
<text transform="translate(596.8 357.43) scale(1.05 1)" font-size="8.4" font-weight="bold" text-anchor="end" fill="#050505">140</text>
<path d="M601.9 467.4v3.9" stroke="#050505" stroke-width="1.5"/>
<text transform="translate(601.9 479.7) scale(1.05 1)" font-size="8.4" font-weight="bold" text-anchor="middle" fill="#050505">0</text>
<path d="M630.32 467.4v3.9" stroke="#050505" stroke-width="1.5"/>
<text transform="translate(630.32 479.7) scale(1.05 1)" font-size="8.4" font-weight="bold" text-anchor="middle" fill="#050505">5</text>
<path d="M658.75 467.4v3.9" stroke="#050505" stroke-width="1.5"/>
<text transform="translate(658.75 479.7) scale(1.05 1)" font-size="8.4" font-weight="bold" text-anchor="middle" fill="#050505">10</text>
<path d="M687.17 467.4v3.9" stroke="#050505" stroke-width="1.5"/>
<text transform="translate(687.17 479.7) scale(1.05 1)" font-size="8.4" font-weight="bold" text-anchor="middle" fill="#050505">15</text>
<path d="M715.6 467.4v3.9" stroke="#050505" stroke-width="1.5"/>
<text transform="translate(715.6 479.7) scale(1.05 1)" font-size="8.4" font-weight="bold" text-anchor="middle" fill="#050505">20</text>
<path d="M744.02 467.4v3.9" stroke="#050505" stroke-width="1.5"/>
<text transform="translate(744.02 479.7) scale(1.05 1)" font-size="8.4" font-weight="bold" text-anchor="middle" fill="#050505">25</text>
<path d="M772.45 467.4v3.9" stroke="#050505" stroke-width="1.5"/>
<text transform="translate(772.45 479.7) scale(1.05 1)" font-size="8.4" font-weight="bold" text-anchor="middle" fill="#050505">30</text>
<text transform="translate(558.4 415.5) rotate(-90) scale(1 1.04)" font-size="14.2" text-anchor="middle" fill="#050505">pERK/total ERK</text>
<text transform="translate(577 417) rotate(-90) scale(1 1.04)" font-size="13.7" text-anchor="middle" fill="#050505">(% maximal response)</text>
<text x="687" y="492" font-size="13.5" text-anchor="middle" fill="#050505">min</text>
<text transform="translate(770.5 412.5) scale(1.11 1)" font-size="14" text-anchor="end" fill="#050505">Control</text>
<text transform="translate(774 457) scale(1.115 1)" font-size="14.2" text-anchor="end" fill="#050505"><tspan font-family="'Liberation Serif', 'DejaVu Serif', serif">β</tspan>-arr siRNA</text>
<polyline points="602.8,616.48 619.97,543.64 631.42,553.14 660.05,615.67 688.67,618.19 717.3,627.44 774.55,633.21" fill="none" stroke="#050505" stroke-width="1.6" stroke-dasharray="2 1.6" stroke-linejoin="round"/>
<path d="M602.8 623.79V609.17M600.3 609.17h5.0M600.3 623.79h5.0" stroke="#050505" stroke-width="1.15" fill="none"/>
<path d="M619.97 547.7V539.58M617.47 539.58h5.0M617.47 547.7h5.0" stroke="#050505" stroke-width="1.15" fill="none"/>
<path d="M631.42 555.58V550.71M628.92 550.71h5.0M628.92 555.58h5.0" stroke="#050505" stroke-width="1.15" fill="none"/>
<path d="M660.05 626.22V605.11M657.55 605.11h5.0M657.55 626.22h5.0" stroke="#050505" stroke-width="1.15" fill="none"/>
<path d="M688.67 624.03V612.34M686.17 612.34h5.0M686.17 624.03h5.0" stroke="#050505" stroke-width="1.15" fill="none"/>
<path d="M717.3 633.29V621.6M714.8 621.6h5.0M714.8 633.29h5.0" stroke="#050505" stroke-width="1.15" fill="none"/>
<circle cx="602.8" cy="616.48" r="2.5" fill="#050505"/>
<circle cx="619.97" cy="543.64" r="2.5" fill="#050505"/>
<circle cx="631.42" cy="553.14" r="2.5" fill="#050505"/>
<circle cx="660.05" cy="615.67" r="2.5" fill="#050505"/>
<circle cx="688.67" cy="618.19" r="2.5" fill="#050505"/>
<circle cx="717.3" cy="627.44" r="2.5" fill="#050505"/>
<circle cx="774.55" cy="633.21" r="2.5" fill="#050505"/>
<polyline points="602.8,612.83 619.97,595.61 631.42,569.38 660.05,590.09 688.67,589.12 717.3,592.28 774.55,599.75" fill="none" stroke="#050505" stroke-width="1.8" stroke-linejoin="round"/>
<path d="M602.8 618.51V607.14M600.3 607.14h5.0M600.3 618.51h5.0" stroke="#050505" stroke-width="1.15" fill="none"/>
<path d="M619.97 601.86V589.36M617.47 589.36h5.0M617.47 601.86h5.0" stroke="#050505" stroke-width="1.15" fill="none"/>
<path d="M631.42 575.07V563.7M628.92 563.7h5.0M628.92 575.07h5.0" stroke="#050505" stroke-width="1.15" fill="none"/>
<path d="M660.05 597.07V583.11M657.55 583.11h5.0M657.55 597.07h5.0" stroke="#050505" stroke-width="1.15" fill="none"/>
<path d="M688.67 595.37V582.86M686.17 582.86h5.0M686.17 595.37h5.0" stroke="#050505" stroke-width="1.15" fill="none"/>
<path d="M717.3 598.62V585.95M714.8 585.95h5.0M714.8 598.62h5.0" stroke="#050505" stroke-width="1.15" fill="none"/>
<path d="M774.55 604.38V595.12M772.05 595.12h5.0M772.05 604.38h5.0" stroke="#050505" stroke-width="1.15" fill="none"/>
<rect x="600.3" y="610.33" width="5.0" height="5.0" fill="#050505"/>
<rect x="617.47" y="593.11" width="5.0" height="5.0" fill="#050505"/>
<rect x="628.92" y="566.88" width="5.0" height="5.0" fill="#050505"/>
<rect x="657.55" y="587.59" width="5.0" height="5.0" fill="#050505"/>
<rect x="686.17" y="586.62" width="5.0" height="5.0" fill="#050505"/>
<rect x="714.8" y="589.78" width="5.0" height="5.0" fill="#050505"/>
<rect x="772.05" y="597.25" width="5.0" height="5.0" fill="#050505"/>
<path d="M602.8 531.22V644.9H774.55" stroke="#050505" stroke-width="1.75" fill="none" stroke-linecap="square"/>
<path d="M602.8 644.9h-4.6" stroke="#050505" stroke-width="1.5"/>
<text transform="translate(597.7 647.91) scale(1.05 1)" font-size="8.4" font-weight="bold" text-anchor="end" fill="#050505">0</text>
<path d="M602.8 628.66h-4.6" stroke="#050505" stroke-width="1.5"/>
<text transform="translate(597.7 631.67) scale(1.05 1)" font-size="8.4" font-weight="bold" text-anchor="end" fill="#050505">20</text>
<path d="M602.8 612.42h-4.6" stroke="#050505" stroke-width="1.5"/>
<text transform="translate(597.7 615.43) scale(1.05 1)" font-size="8.4" font-weight="bold" text-anchor="end" fill="#050505">40</text>
<path d="M602.8 596.18h-4.6" stroke="#050505" stroke-width="1.5"/>
<text transform="translate(597.7 599.19) scale(1.05 1)" font-size="8.4" font-weight="bold" text-anchor="end" fill="#050505">60</text>
<path d="M602.8 579.94h-4.6" stroke="#050505" stroke-width="1.5"/>
<text transform="translate(597.7 582.95) scale(1.05 1)" font-size="8.4" font-weight="bold" text-anchor="end" fill="#050505">80</text>
<path d="M602.8 563.7h-4.6" stroke="#050505" stroke-width="1.5"/>
<text transform="translate(597.7 566.71) scale(1.05 1)" font-size="8.4" font-weight="bold" text-anchor="end" fill="#050505">100</text>
<path d="M602.8 547.46h-4.6" stroke="#050505" stroke-width="1.5"/>
<text transform="translate(597.7 550.47) scale(1.05 1)" font-size="8.4" font-weight="bold" text-anchor="end" fill="#050505">120</text>
<path d="M602.8 531.22h-4.6" stroke="#050505" stroke-width="1.5"/>
<text transform="translate(597.7 534.23) scale(1.05 1)" font-size="8.4" font-weight="bold" text-anchor="end" fill="#050505">140</text>
<path d="M602.8 644.9v3.9" stroke="#050505" stroke-width="1.5"/>
<text transform="translate(602.8 657.2) scale(1.05 1)" font-size="8.4" font-weight="bold" text-anchor="middle" fill="#050505">0</text>
<path d="M631.42 644.9v3.9" stroke="#050505" stroke-width="1.5"/>
<text transform="translate(631.42 657.2) scale(1.05 1)" font-size="8.4" font-weight="bold" text-anchor="middle" fill="#050505">5</text>
<path d="M660.05 644.9v3.9" stroke="#050505" stroke-width="1.5"/>
<text transform="translate(660.05 657.2) scale(1.05 1)" font-size="8.4" font-weight="bold" text-anchor="middle" fill="#050505">10</text>
<path d="M688.67 644.9v3.9" stroke="#050505" stroke-width="1.5"/>
<text transform="translate(688.67 657.2) scale(1.05 1)" font-size="8.4" font-weight="bold" text-anchor="middle" fill="#050505">15</text>
<path d="M717.3 644.9v3.9" stroke="#050505" stroke-width="1.5"/>
<text transform="translate(717.3 657.2) scale(1.05 1)" font-size="8.4" font-weight="bold" text-anchor="middle" fill="#050505">20</text>
<path d="M745.92 644.9v3.9" stroke="#050505" stroke-width="1.5"/>
<text transform="translate(745.92 657.2) scale(1.05 1)" font-size="8.4" font-weight="bold" text-anchor="middle" fill="#050505">25</text>
<path d="M774.55 644.9v3.9" stroke="#050505" stroke-width="1.5"/>
<text transform="translate(774.55 657.2) scale(1.05 1)" font-size="8.4" font-weight="bold" text-anchor="middle" fill="#050505">30</text>
<text transform="translate(562.0 589.6) rotate(-90) scale(1 1.04)" font-size="14.2" text-anchor="middle" fill="#050505">pERK/total ERK</text>
<text transform="translate(578.8 589.4) rotate(-90) scale(1 1.02)" font-size="14.1" text-anchor="middle" fill="#050505">(% maximal response)</text>
<text x="691.2" y="669" font-size="13.5" text-anchor="middle" fill="#050505">min</text>
<text transform="translate(777 590.75) scale(1.11 1)" font-size="14" text-anchor="end" fill="#050505">Control</text>
<text transform="translate(768.75 627) scale(1.09 1)" font-size="14" text-anchor="end" fill="#050505">CTOP</text>
</g>
</svg>
</body></html>
